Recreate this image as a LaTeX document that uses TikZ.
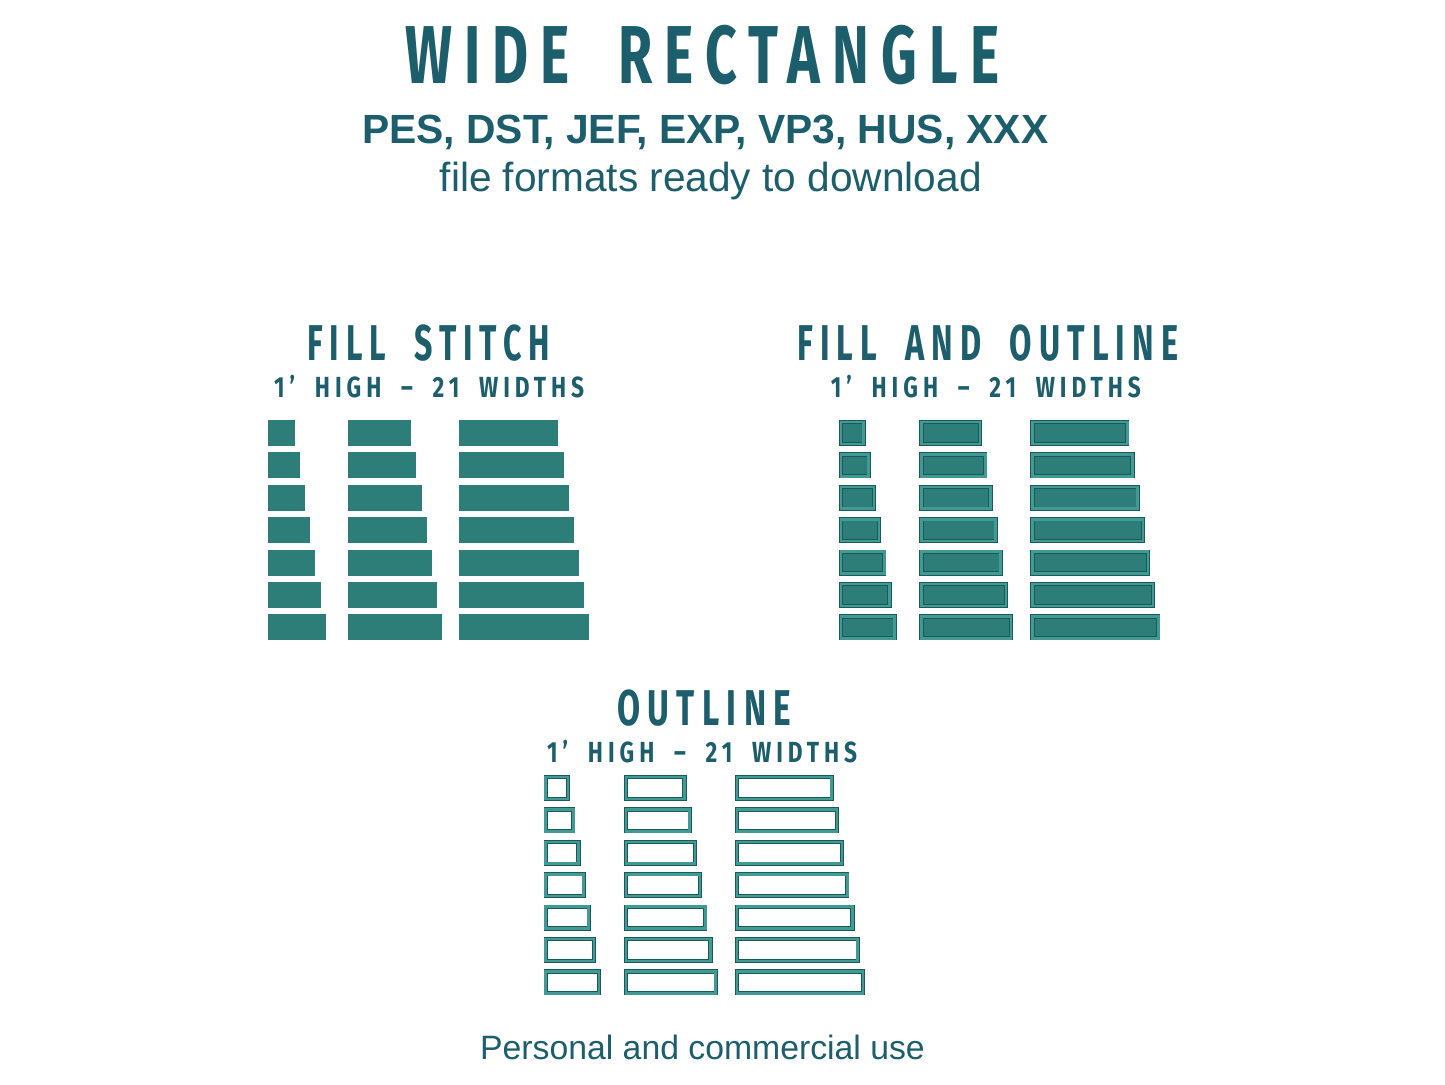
\documentclass[tikz,border=0pt]{standalone}
\usepackage{fontspec}
\usepackage{graphicx}
\setmainfont{Liberation Sans}
\newfontfamily\headfont[LetterSpace=22,WordSpace=1.9]{Fira Sans}

\definecolor{textteal}{RGB}{29,94,108}
\definecolor{stitchfill}{RGB}{45,125,121}
\definecolor{bordermid}{RGB}{66,154,148}
\definecolor{edgedark}{RGB}{26,90,88}

\newcommand{\headtext}[3]{\resizebox{#1pt}{#2pt}{\headfont\bfseries #3}}
\newcommand{\plaintext}[2]{\resizebox{#1pt}{!}{#2}}

\tikzset{
  label/.style={inner sep=0, anchor=base west, text=textteal},
  fillrect/.style={fill=stitchfill},
  bothrect/.style={fill=stitchfill, draw=edgedark, double=bordermid, line width=0.8pt, double distance=2.6pt},
  linerect/.style={draw=edgedark, double=bordermid, line width=0.8pt, double distance=2.6pt}
}

\begin{document}
\begin{tikzpicture}[x=1pt, y=-1pt]

\fill[white] (0,0) rectangle (1445,1084);
\useasboundingbox (0,0) rectangle (1445,1084);

\node[label] (title) at (405,83.3) {\headtext{594}{58.3}{WIDE RECTANGLE}};
\node[label] (formats) at (362,143.3) {\plaintext{686}{\bfseries PES, DST, JEF, EXP, VP3, HUS, XXX}};
\node[label] (ready) at (439.5,191.7) {\plaintext{542}{file formats ready to download}};

\node[label] (fillhead) at (307,360.7) {\headtext{243}{35.7}{FILL STITCH}};
\node[label] (fillsub) at (274,397.3) {\headtext{310}{22.3}{1’ HIGH – 21 WIDTHS}};

\node[label] (bothhead) at (797,360.7) {\headtext{381}{35.7}{FILL AND OUTLINE}};
\node[label] (bothsub) at (830.7,397.3) {\headtext{310}{22.3}{1’ HIGH – 21 WIDTHS}};

\node[label] (linehead) at (617,725) {\headtext{174}{35.7}{OUTLINE}};
\node[label] (linesub) at (547,762.3) {\headtext{310}{22.3}{1’ HIGH – 21 WIDTHS}};

\node[label] (use) at (480,1059.3) {\plaintext{444.6}{Personal and commercial use}};

% fill stitch
\foreach \col/\cx in {0/268,1/348.3,2/459.3}
  \foreach \row in {0,...,6} {
    \pgfmathsetmacro\w{26.7+5.17*(7*\col+\row)}
    \fill[fillrect] (\cx,{420+32.4*\row}) rectangle ++(\w,26);
  }

% fill and outline
\foreach \col/\cx in {0/839,1/919.3,2/1030.3}
  \foreach \row in {0,...,6} {
    \pgfmathsetmacro\w{26.7+5.17*(7*\col+\row)}
    \filldraw[bothrect] ({\cx+2.1},{420+32.4*\row+2.1}) rectangle ++({\w-4.2},21.8);
  }

% outline
\foreach \col/\cx in {0/543.5,1/623.8,2/734.8}
  \foreach \row in {0,...,6} {
    \pgfmathsetmacro\w{26.7+5.17*(7*\col+\row)}
    \draw[linerect] ({\cx+2.1},{775+32.4*\row+2.1}) rectangle ++({\w-4.2},21.8);
  }

\end{tikzpicture}
\end{document}
